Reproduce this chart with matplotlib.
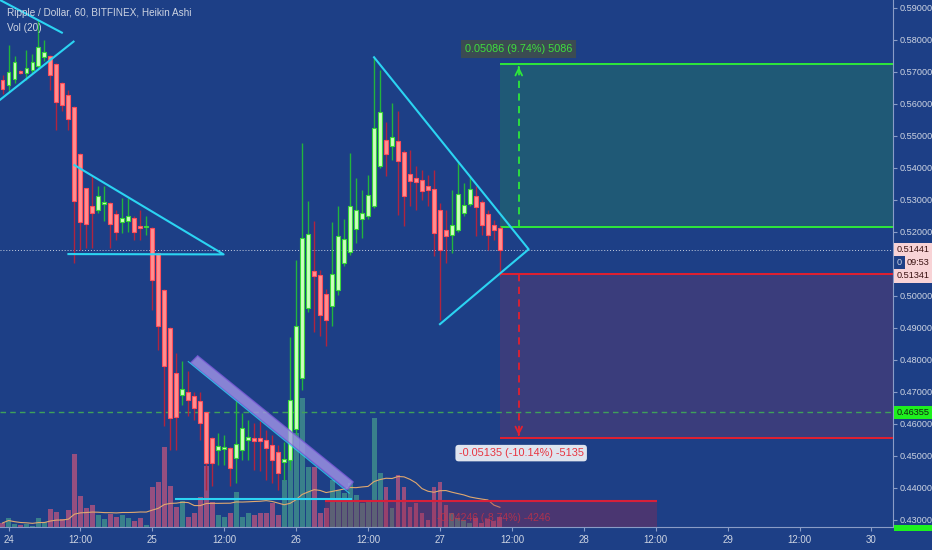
"""
Ripple / Dollar hourly Heikin Ashi chart with drawn patterns and position tool.
"""
import matplotlib
matplotlib.use('Agg')
import matplotlib.pyplot as plt
from matplotlib.patches import Polygon, Rectangle
import numpy as np
import pandas as pd

# hours counted from 24th 00:00
hours = list(range(-1, 83))
opens = [0.5675, 0.5659, 0.5677, 0.5701, 0.5696, 0.5706, 0.5717, 0.5746, 0.5750, 0.5724,
         0.5665, 0.5628, 0.5590, 0.5444, 0.5335, 0.5281, 0.5269, 0.5288, 0.5291, 0.5256,
         0.5229, 0.5232, 0.5244, 0.5219, 0.5215, 0.5212, 0.5134, 0.5019, 0.4900, 0.4759,
         0.4691, 0.4698, 0.4685, 0.4670, 0.4635, 0.4555, 0.4519, 0.4521, 0.4525, 0.4494,
         0.4519, 0.4550, 0.4555, 0.4555, 0.4550, 0.4534, 0.4512, 0.4481, 0.4487, 0.4583,
         0.4744, 0.4963, 0.5076, 0.5066, 0.5005, 0.4967, 0.5017, 0.5103, 0.5138, 0.5208,
         0.5241, 0.5248, 0.5281, 0.5404, 0.5487, 0.5467, 0.5482, 0.5449, 0.5380, 0.5368,
         0.5360, 0.5342, 0.5333, 0.5269, 0.5204, 0.5191, 0.5206, 0.5258, 0.5288, 0.5310,
         0.5292, 0.5256, 0.5222, 0.5212]
closes = [0.5647, 0.5698, 0.5729, 0.5697, 0.5712, 0.5730, 0.5776, 0.5760, 0.5691, 0.5604,
          0.5597, 0.5552, 0.5295, 0.5229, 0.5225, 0.5259, 0.5310, 0.5294, 0.5225, 0.5200,
          0.5244, 0.5248, 0.5200, 0.5210, 0.5217, 0.5050, 0.4906, 0.4779, 0.4619, 0.4622,
          0.4709, 0.4675, 0.4649, 0.4602, 0.4477, 0.4477, 0.4531, 0.4527, 0.4462, 0.4537,
          0.4587, 0.4558, 0.4545, 0.4545, 0.4525, 0.4487, 0.4447, 0.4490, 0.4675, 0.4904,
          0.5181, 0.5194, 0.5060, 0.4941, 0.4925, 0.5069, 0.5185, 0.5178, 0.5281, 0.5269,
          0.5259, 0.5316, 0.5525, 0.5573, 0.5444, 0.5497, 0.5420, 0.5310, 0.5357, 0.5354,
          0.5326, 0.5329, 0.5196, 0.5142, 0.5188, 0.5222, 0.5319, 0.5284, 0.5333, 0.5277,
          0.5222, 0.5191, 0.5206, 0.5144]
highs = [0.5690, 0.5782, 0.5750, 0.5705, 0.5767, 0.5756, 0.5862, 0.5800, 0.5752, 0.5726,
         0.5667, 0.5644, 0.5592, 0.5446, 0.5337, 0.5373, 0.5342, 0.5342, 0.5293, 0.5269,
         0.5306, 0.5306, 0.5248, 0.5269, 0.5248, 0.5214, 0.5136, 0.5021, 0.4902, 0.4822,
         0.4795, 0.4764, 0.4700, 0.4700, 0.4637, 0.4557, 0.4572, 0.4566, 0.4527, 0.4670,
         0.4633, 0.4613, 0.4603, 0.4607, 0.4581, 0.4566, 0.4534, 0.4544, 0.4872, 0.5112,
         0.5478, 0.5297, 0.5232, 0.5081, 0.5020, 0.5229, 0.5281, 0.5241, 0.5447, 0.5369,
         0.5331, 0.5378, 0.5746, 0.5704, 0.5542, 0.5603, 0.5576, 0.5456, 0.5456, 0.5404,
         0.5394, 0.5378, 0.5394, 0.5291, 0.5269, 0.5331, 0.5420, 0.5353, 0.5373, 0.5342,
         0.5300, 0.5269, 0.5237, 0.5218]
lows = [0.5630, 0.5638, 0.5666, 0.5694, 0.5675, 0.5696, 0.5712, 0.5732, 0.5644, 0.5519,
        0.5576, 0.5519, 0.5103, 0.5144, 0.5150, 0.5150, 0.5259, 0.5232, 0.5150, 0.5175,
        0.5197, 0.5200, 0.5175, 0.5175, 0.5190, 0.4956, 0.4831, 0.4592, 0.4519, 0.4519,
        0.4659, 0.4623, 0.4613, 0.4550, 0.4394, 0.4404, 0.4472, 0.4472, 0.4404, 0.4415,
        0.4487, 0.4487, 0.4456, 0.4451, 0.4425, 0.4415, 0.4393, 0.4425, 0.4456, 0.4550,
        0.4706, 0.4950, 0.4888, 0.4873, 0.4842, 0.4904, 0.5003, 0.5094, 0.5128, 0.5166,
        0.5181, 0.5240, 0.5275, 0.5400, 0.5375, 0.5425, 0.5253, 0.5217, 0.5279, 0.5269,
        0.5300, 0.5279, 0.5123, 0.4925, 0.5103, 0.5134, 0.5200, 0.5250, 0.5280, 0.5185,
        0.5190, 0.5144, 0.5175, 0.5060]
volumes = [4, 9, 3, 2, 3, 1, 9, 5, 18, 15, 8, 17, 73, 31, 19, 22, 12, 8, 13, 10,
           12, 9, 6, 9, 2, 40, 45, 80, 41, 20, 26, 10, 14, 30, 61, 25, 12, 10, 14, 35,
           10, 14, 12, 14, 14, 24, 12, 47, 70, 94, 129, 60, 60, 14, 19, 47, 37, 34, 44, 32,
           24, 25, 109, 54, 40, 19, 52, 40, 20, 24, 14, 7, 40, 45, 22, 14, 9, 7, 4, 9,
           4, 8, 6, 10]

tick_hours = list(range(0, 145, 12))
tick_labels = ['24', '12:00', '25', '12:00', '26', '12:00', '27', '12:00',
               '28', '12:00', '29', '12:00', '30']

# drawn trendlines (hour, price)
line_top_left_a = [(-1.42, 0.5924), (8.9, 0.5822)]
line_top_left_b = [(-1.42, 0.5612), (10.85, 0.5794)]
triangle_small = [(10.0, 0.5130), (35.9, 0.5129), (11.0, 0.5408)]
triangle_big = [(61.0, 0.5745), (86.8, 0.5145), (72.0, 0.4911)]
support_line = [(28.0, 0.4365), (57.2, 0.4365)]
channel = [(31.56, 0.4812), (30.39, 0.4790), (56.51, 0.4393), (57.52, 0.4418)]
channel_edge = [(30.0, 0.4794), (56.85, 0.4383)]

# position tool
pos_start = 82.0
pos_mid = 85.15
target_top, target_bottom = 0.5724, 0.5215
stop_top, stop_bottom = 0.5068, 0.4555
old_stop, old_start, old_end = 0.4358, 52.8, 108.3

last_price = 0.51441
level_price = 0.46355

BG = '#1d3f86'
TXT = '#cdd4e2'
plt.rcParams['font.family'] = ['Liberation Sans', 'DejaVu Sans']

XMIN, XMAX = -1.42, 147.6
YMIN, YMAX = 0.42771, 0.5924

fig = plt.figure(figsize=(9.32, 5.5), dpi=100, facecolor=BG)
rect = [0, 23 / 550, 893 / 932, 527 / 550]

# volume pane underneath
vax = fig.add_axes(rect)
vax.set_facecolor(BG)
vax.set_xlim(XMIN, XMAX)
vax.set_ylim(0, 527)
vax.axis('off')
up = [c >= o for o, c in zip(opens, closes)]
vcolors = ['#3f8c8c' if u else '#ab527f' for u in up]
vax.bar(hours, volumes, width=0.82, color=vcolors, alpha=0.85, linewidth=0)
vol_ma = pd.Series(volumes).rolling(20, min_periods=1).mean()
vax.plot(hours, vol_ma, color='#e0a870', lw=0.8)

ax = fig.add_axes(rect)
ax.set_facecolor('none')
ax.set_xlim(XMIN, XMAX)
ax.set_ylim(YMIN, YMAX)

# position zones
ax.fill_between([pos_start, XMAX], target_bottom, target_top, color='#22706a', alpha=0.55, lw=0)
ax.fill_between([pos_start, XMAX], stop_bottom, stop_top, color='#4a3d78', alpha=0.65, lw=0)
ax.hlines([target_top, target_bottom], pos_start, XMAX, color='#2ee83a', lw=1.4)
ax.hlines([stop_top, stop_bottom], pos_start, XMAX, color='#e3202f', lw=1.4)
ax.vlines(pos_mid, target_bottom, target_top - 0.0015, color='#2ee83a', lw=1.3, linestyles=(0, (4, 3)))
ax.vlines(pos_mid, stop_bottom + 0.0015, stop_top, color='#e3202f', lw=1.3, linestyles=(0, (4, 3)))
ax.annotate('', xy=(pos_mid, target_top), xytext=(pos_mid, target_top - 0.002),
            arrowprops=dict(arrowstyle='->', color='#2ee83a', lw=1.3, mutation_scale=12))
ax.annotate('', xy=(pos_mid, stop_bottom), xytext=(pos_mid, stop_bottom + 0.002),
            arrowprops=dict(arrowstyle='->', color='#e3202f', lw=1.3, mutation_scale=12))
ax.text(pos_mid, 0.5771, '0.05086 (9.74%) 5086', ha='center', va='center', fontsize=7.8,
        color='#3ee03e', bbox=dict(boxstyle='square,pad=0.35', fc='#3b4b52', ec='none'))
ax.text(pos_mid + 0.4, 0.4508, '-0.05135 (-10.14%) -5135', ha='center', va='center', fontsize=7.8,
        color='#e8333f', bbox=dict(boxstyle='round,pad=0.3', fc='#dfe4ee', ec='none'))

# older stop zone at the bottom
ax.fill_between([old_start, old_end], YMIN, old_stop, color='#a0284c', alpha=0.35, lw=0)
ax.hlines(old_stop, old_start, old_end, color='#d8203a', lw=1.5)
ax.text(81.0, 0.4305, '-0.04246 (-8.74%) -4246', ha='center', va='center', fontsize=7.5,
        color='#d8303f', alpha=0.7)

# horizontal levels
ax.axhline(last_price, color='#c8d0e0', lw=0.7, ls=(0, (1, 2)))
ax.axhline(level_price, color='#3fa05a', lw=1.0, ls=(0, (4, 3)))

# heikin ashi candles
wick_colors = ['#22b43c' if u else '#b0243f' for u in up]
face = ['#cdffbe' if u else '#ff8f90' for u in up]
edge = ['#3ad83a' if u else '#ff4f5a' for u in up]
bottoms = [min(o, c) for o, c in zip(opens, closes)]
heights = [max(abs(c - o), 0.0002) for o, c in zip(opens, closes)]
ax.vlines(hours, lows, highs, colors=wick_colors, lw=1.0, zorder=3)
ax.bar(hours, heights, bottom=bottoms, width=0.66, color=face, edgecolor=edge, lw=0.8, zorder=4)

# drawings
CY = '#2bd4f2'
for seg in [line_top_left_a, line_top_left_b, support_line]:
    xs, ys = zip(*seg)
    ax.plot(xs, ys, color=CY, lw=1.5, zorder=5)
for tri in [triangle_small, triangle_big]:
    xs, ys = zip(*tri)
    ax.plot(xs, ys, color=CY, lw=1.5, zorder=5)
ax.add_patch(Polygon(channel, closed=True, fc='#a395e8', ec='#7a5ad8', lw=1.0, alpha=0.8, zorder=6))
xs, ys = zip(*channel_edge)
ax.plot(xs, ys, color=CY, lw=0.8, alpha=0.8, zorder=6)

# axes styling
for s in ['top', 'left']:
    ax.spines[s].set_visible(False)
for s in ['right', 'bottom']:
    ax.spines[s].set_color('#8a9cc6')
    ax.spines[s].set_linewidth(0.8)
ax.yaxis.tick_right()
yt = [round(v, 2) for v in np.arange(0.43, 0.595, 0.01) if abs(v - 0.51) > 0.001]
ax.set_yticks(yt)
ax.set_yticklabels(['%.5f' % v for v in yt])
ax.set_xticks(tick_hours)
ax.set_xticklabels(tick_labels)
ax.tick_params(axis='y', color='#8a9cc6', labelcolor=TXT, labelsize=6.6, length=3, pad=1.5)
ax.tick_params(axis='x', color='#8a9cc6', labelcolor=TXT, labelsize=7, length=3, pad=3)

# price labels on the axis
ytr = ax.get_yaxis_transform()
pink = dict(boxstyle='square,pad=0.25', fc='#f8d3d6', ec='none')
ax.text(1.004, last_price, '0.51441', transform=ytr, ha='left', va='center', fontsize=6.6,
        color='#3a1212', bbox=pink, clip_on=False)
ax.text(1.004, 0.5105, '0', transform=ytr, ha='left', va='center', fontsize=6.6, color=TXT, clip_on=False)
ax.text(1.0155, 0.5105, '09:53', transform=ytr, ha='left', va='center', fontsize=6.6,
        color='#3a1212', bbox=pink, clip_on=False)
ax.text(1.004, 0.5062, '0.51341', transform=ytr, ha='left', va='center', fontsize=6.6,
        color='#3a1212', bbox=pink, clip_on=False)
ax.text(1.004, level_price, '0.46355', transform=ytr, ha='left', va='center', fontsize=6.6,
        color='#102010', bbox=dict(boxstyle='square,pad=0.25', fc='#1ef01e', ec='none'), clip_on=False)
fig.patches.append(Rectangle((894 / 932, 19 / 550), 38 / 932, 6 / 550, transform=fig.transFigure,
                             fc='#1ef01e', ec='none'))

# legend text
fig.text(7 / 932, 1 - 13 / 550, 'Ripple / Dollar, 60, BITFINEX, Heikin Ashi', fontsize=7.2,
         color=TXT, va='center', ha='left')
fig.text(7 / 932, 1 - 28 / 550, 'Vol (20)', fontsize=7.2, color=TXT, va='center', ha='left')

fig.savefig('out.png', dpi=100, facecolor=BG)
